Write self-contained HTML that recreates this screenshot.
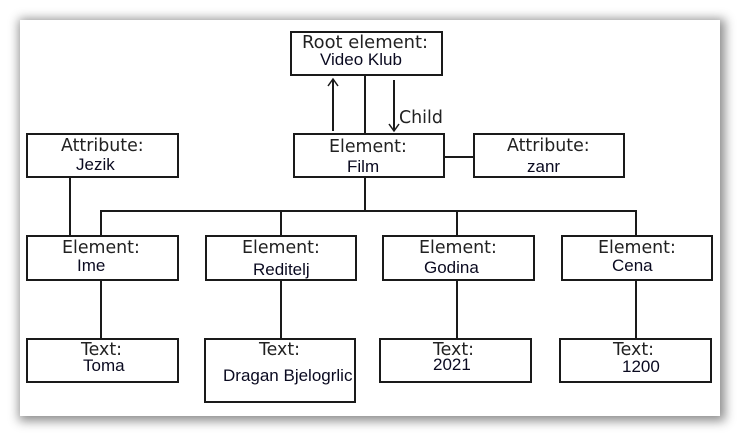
<!DOCTYPE html>
<html><head><meta charset="utf-8"><style>
html,body{margin:0;padding:0;background:#fff;}
body{width:740px;height:436px;position:relative;overflow:hidden;}
.panel{position:absolute;left:20px;top:20px;width:700px;height:396px;background:#fff;box-shadow:2px 2px 10px 3px rgba(0,0,0,0.45);}
svg{position:absolute;left:0;top:0;}
.l{font-family:"DejaVu Sans",sans-serif;font-size:17.4px;fill:#222;}
.v{font-family:"Liberation Sans",sans-serif;font-size:17px;fill:#0a0a20;}
</style></head><body>
<div class="panel"></div>
<svg width="740" height="436" viewBox="0 0 740 436">
<g fill="#fff" stroke="#1a1a1a" stroke-width="2">
<rect x="291" y="32" width="151" height="43"/>
<rect x="294" y="134" width="150" height="43"/>
<rect x="27" y="134" width="151" height="43"/>
<rect x="474" y="134" width="150" height="43"/>
<rect x="27" y="236" width="151" height="44"/>
<rect x="206" y="236" width="150" height="44"/>
<rect x="383" y="236" width="151" height="44"/>
<rect x="562" y="236" width="150" height="44"/>
<rect x="27" y="339" width="151" height="43"/>
<rect x="205" y="339" width="150" height="63"/>
<rect x="380" y="339" width="151" height="43"/>
<rect x="560" y="339" width="151" height="43"/>
</g>
<g stroke="#1a1a1a" stroke-width="2" fill="none">
<line x1="365" y1="75" x2="365" y2="134"/>
<line x1="333" y1="131" x2="333" y2="80"/>
<line x1="394" y1="80" x2="394" y2="130"/>
<line x1="444" y1="157" x2="474" y2="157"/>
<line x1="70" y1="177" x2="70" y2="236"/>
<line x1="365" y1="177" x2="365" y2="211"/>
<line x1="100" y1="211" x2="637" y2="211"/>
<line x1="101" y1="211" x2="101" y2="236"/>
<line x1="281" y1="211" x2="281" y2="236"/>
<line x1="457" y1="211" x2="457" y2="236"/>
<line x1="636" y1="211" x2="636" y2="236"/>
<line x1="101" y1="280" x2="101" y2="339"/>
<line x1="281" y1="280" x2="281" y2="339"/>
<line x1="457" y1="280" x2="457" y2="339"/>
<line x1="636" y1="280" x2="636" y2="339"/>
</g>
<g stroke="#1a1a1a" stroke-width="1.5" fill="none">
<polyline points="328,86 333,79 338,86"/>
<polyline points="389,124 394,131 399,124"/>
</g>
<text class="l" x="302" y="48" textLength="126" lengthAdjust="spacingAndGlyphs">Root element:</text>
<text class="v" x="320" y="65">Video Klub</text>
<text class="l" x="399" y="123">Child</text>
<text class="l" x="61" y="151">Attribute:</text>
<text class="v" x="76" y="170">Jezik</text>
<text class="l" x="329" y="152">Element:</text>
<text class="v" x="347" y="172">Film</text>
<text class="l" x="507" y="151">Attribute:</text>
<text class="v" x="527" y="172">zanr</text>
<text class="l" x="62" y="253">Element:</text>
<text class="v" x="77" y="271">Ime</text>
<text class="l" x="242" y="253">Element:</text>
<text class="v" x="253" y="275">Reditelj</text>
<text class="l" x="419" y="253">Element:</text>
<text class="v" x="424" y="273">Godina</text>
<text class="l" x="598" y="253">Element:</text>
<text class="v" x="612" y="271">Cena</text>
<text class="l" x="81" y="355">Text:</text>
<text class="v" x="83" y="371">Toma</text>
<text class="l" x="259" y="355">Text:</text>
<text class="v" x="223" y="381">Dragan Bjelogrlic</text>
<text class="l" x="433" y="355">Text:</text>
<text class="v" x="433" y="370">2021</text>
<text class="l" x="613" y="355">Text:</text>
<text class="v" x="622" y="372">1200</text>
</svg>
</body></html>
